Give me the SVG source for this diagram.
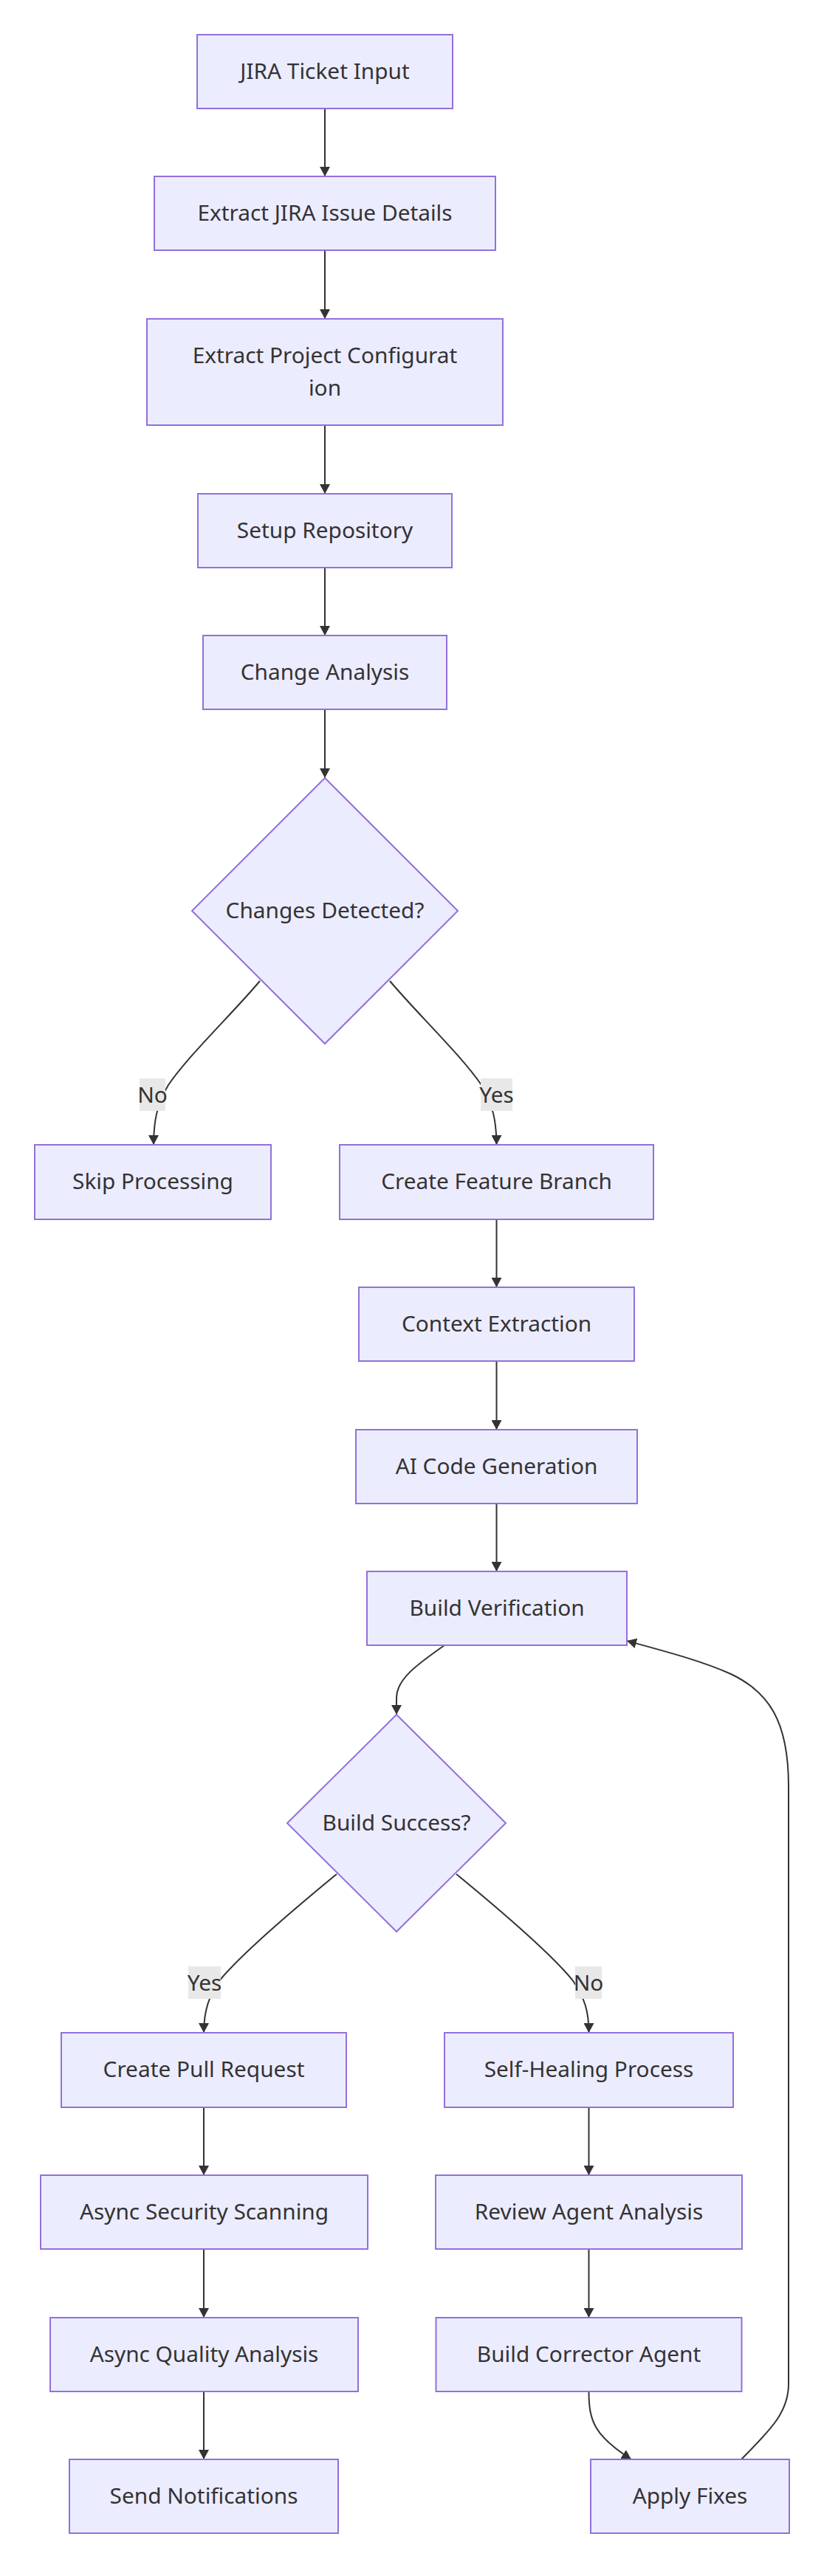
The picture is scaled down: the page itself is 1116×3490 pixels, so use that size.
<svg xmlns="http://www.w3.org/2000/svg" width="1116" height="3490" viewBox="0 0 1116 3490">
<style>
.node rect,.node polygon{fill:#ECECFF;stroke:#9370DB;stroke-width:2}
.node text,.lbl text{font-family:"Noto Sans","DejaVu Sans",sans-serif;font-size:29.8px;fill:#333;text-anchor:middle;dominant-baseline:central}
.node text{transform:translateY(-2px)}
.edge{fill:none;stroke:#333;stroke-width:2}
.lbl rect{fill:#e8e8e8}
</style>
<defs>
<marker id="arrow" markerUnits="userSpaceOnUse" markerWidth="14" markerHeight="14" refX="13" refY="7" orient="auto">
<path d="M0,0 L13,7 L0,14 z" fill="#333"/>
</marker>
</defs>
<rect width="1116" height="3490" fill="#ffffff"/>
<g id="edges">
<path class="edge" d="M440,147 L440,239" marker-end="url(#arrow)"/>
<path class="edge" d="M440,339 L440,432" marker-end="url(#arrow)"/>
<path class="edge" d="M440,576 L440,669" marker-end="url(#arrow)"/>
<path class="edge" d="M440,769 L440,861" marker-end="url(#arrow)"/>
<path class="edge" d="M440,961 L440,1054" marker-end="url(#arrow)"/>
<path class="edge" d="M352,1329 C318,1370 255,1430 228,1470 C212,1496 208,1522 208,1551" marker-end="url(#arrow)"/>
<path class="edge" d="M528,1329 C562,1370 625,1430 652,1470 C668,1496 672.5,1522 672.5,1551" marker-end="url(#arrow)"/>
<path class="edge" d="M672.5,1652 L672.5,1744" marker-end="url(#arrow)"/>
<path class="edge" d="M672.5,1844 L672.5,1937" marker-end="url(#arrow)"/>
<path class="edge" d="M672.5,2037 L672.5,2129" marker-end="url(#arrow)"/>
<path class="edge" d="M602,2229 C565,2255 537,2275 537,2300 L537,2323" marker-end="url(#arrow)"/>
<path class="edge" d="M456,2539 C400,2585 330,2645 300,2680 C283,2702 276,2725 276,2754" marker-end="url(#arrow)"/>
<path class="edge" d="M618,2539 C680,2590 750,2650 777,2685 C792,2708 797.5,2725 797.5,2754" marker-end="url(#arrow)"/>
<path class="edge" d="M276,2855 L276,2947" marker-end="url(#arrow)"/>
<path class="edge" d="M276,3047 L276,3140" marker-end="url(#arrow)"/>
<path class="edge" d="M276,3240 L276,3332" marker-end="url(#arrow)"/>
<path class="edge" d="M797.5,2855 L797.5,2947" marker-end="url(#arrow)"/>
<path class="edge" d="M797.5,3047 L797.5,3140" marker-end="url(#arrow)"/>
<path class="edge" d="M797.5,3240 C797.5,3280 805,3300 855,3332" marker-end="url(#arrow)"/>
<path class="edge" d="M1004,3332 C1040,3295 1068,3270 1068,3230 L1068,2420 C1068,2330 1040,2292 990,2268 C950,2250 900,2237 849,2223" marker-end="url(#arrow)"/>
</g>
<g id="edge-labels">
<g class="lbl"><rect x="189" y="1461" width="35" height="44"/><text x="206.5" y="1482">No</text></g>
<g class="lbl"><rect x="651" y="1461" width="43" height="44"/><text x="672.5" y="1482">Yes</text></g>
<g class="lbl"><rect x="255" y="2664" width="44" height="44"/><text x="277" y="2685">Yes</text></g>
<g class="lbl"><rect x="779" y="2664" width="36" height="44"/><text x="797" y="2685">No</text></g>
</g>
<g id="A" class="node"><rect x="267" y="47" width="346" height="100"/><text x="440" y="97">JIRA Ticket Input</text></g>
<g id="B" class="node"><rect x="209" y="239" width="462" height="100"/><text x="440" y="289">Extract JIRA Issue Details</text></g>
<g id="C" class="node"><rect x="199" y="432" width="482" height="144"/><text x="440" y="482">Extract Project Configurat</text><text x="440" y="526">ion</text></g>
<g id="D" class="node"><rect x="268" y="669" width="344" height="100"/><text x="440" y="719">Setup Repository</text></g>
<g id="E" class="node"><rect x="275" y="861" width="330" height="100"/><text x="440" y="911">Change Analysis</text></g>
<g id="F" class="node"><polygon points="440,1054 620,1234 440,1414 260,1234"/><text x="440" y="1234">Changes Detected?</text></g>
<g id="G" class="node"><rect x="47" y="1551" width="320" height="101"/><text x="207" y="1601">Skip Processing</text></g>
<g id="H" class="node"><rect x="460" y="1551" width="425" height="101"/><text x="672.5" y="1601">Create Feature Branch</text></g>
<g id="I" class="node"><rect x="486" y="1744" width="373" height="100"/><text x="672.5" y="1794">Context Extraction</text></g>
<g id="J" class="node"><rect x="482" y="1937" width="381" height="100"/><text x="672.5" y="1987">AI Code Generation</text></g>
<g id="K" class="node"><rect x="497" y="2129" width="352" height="100"/><text x="673" y="2179">Build Verification</text></g>
<g id="L" class="node"><polygon points="537,2323 685,2470 537,2617 389,2470"/><text x="537" y="2470">Build Success?</text></g>
<g id="M" class="node"><rect x="83" y="2754" width="386" height="101"/><text x="276" y="2804">Create Pull Request</text></g>
<g id="N" class="node"><rect x="602" y="2754" width="391" height="101"/><text x="797.5" y="2804">Self-Healing Process</text></g>
<g id="O" class="node"><rect x="55" y="2947" width="443" height="100"/><text x="276.5" y="2997">Async Security Scanning</text></g>
<g id="P" class="node"><rect x="590" y="2947" width="415" height="100"/><text x="797.5" y="2997">Review Agent Analysis</text></g>
<g id="Q" class="node"><rect x="68" y="3140" width="417" height="100"/><text x="276.5" y="3190">Async Quality Analysis</text></g>
<g id="R" class="node"><rect x="590.5" y="3140" width="414" height="100"/><text x="797.5" y="3190">Build Corrector Agent</text></g>
<g id="S" class="node"><rect x="94" y="3332" width="364" height="100"/><text x="276" y="3382">Send Notifications</text></g>
<g id="T" class="node"><rect x="800" y="3332" width="269" height="100"/><text x="934.5" y="3382">Apply Fixes</text></g>
</svg>
